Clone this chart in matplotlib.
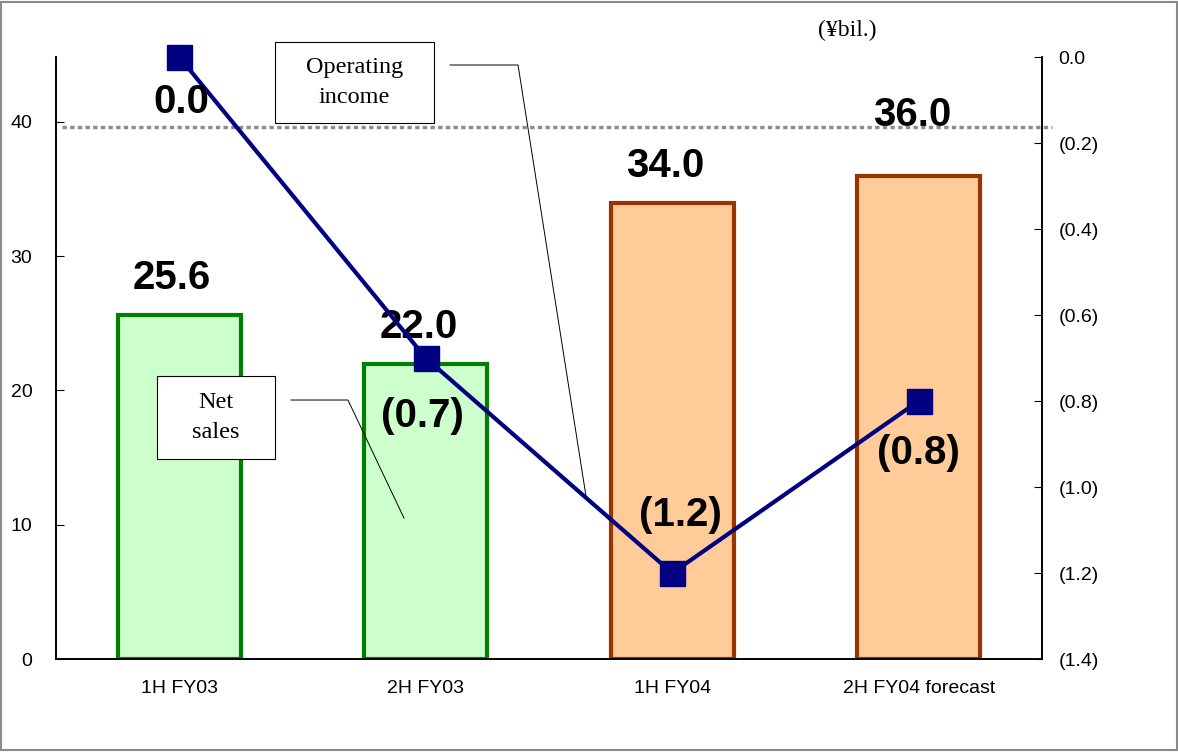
import matplotlib.pyplot as plt
from matplotlib.patches import Rectangle
from matplotlib.lines import Line2D
from matplotlib.ticker import FuncFormatter

# data (¥ billions)
periods = ["1H FY03", "2H FY03", "1H FY04", "2H FY04 forecast"]
net_sales = [25.6, 22.0, 34.0, 36.0]
operating_income = [0.0, -0.7, -1.2, -0.8]
sales_labels = ["25.6", "22.0", "34.0", "36.0"]
income_labels = ["0.0", "(0.7)", "(1.2)", "(0.8)"]

face_colors = ["#CCFFCC", "#CCFFCC", "#FFCC99", "#FFCC99"]
edge_colors = ["#008000", "#008000", "#993300", "#993300"]

# label offsets in pixels, placed by hand like the original slide
sales_offsets = [(-7, 37), (-7, 37), (-7, 37), (-7, 61)]
income_offsets = [(2, -45), (-3, -58), (8, 58), (0, -52)]

plt.rcParams["font.family"] = ["Liberation Sans", "DejaVu Sans"]

fig = plt.figure(figsize=(11.78, 7.52), dpi=100)
ax = fig.add_axes([56 / 1178, 93 / 752, 986 / 1178, 602 / 752])
ax2 = ax.twinx()

x = list(range(len(periods)))
ax.bar(x, net_sales, width=0.5, color=face_colors, edgecolor=edge_colors,
       linewidth=3, zorder=2)
ax.set_xlim(-0.5, 3.5)
ax.set_ylim(0, 44.84)
ax.set_yticks([0, 10, 20, 30, 40])
ax.set_xticks(x)
ax.set_xticklabels(periods)
ax.tick_params(axis="x", length=0, pad=15, labelsize=14)
ax.tick_params(axis="y", direction="in", length=6, pad=17, labelsize=14)

for i, v in enumerate(net_sales):
    ax.annotate(sales_labels[i], (x[i], v), xytext=sales_offsets[i],
                textcoords="offset pixels", ha="center", va="center",
                fontsize=29, fontweight="bold", zorder=3)

ax2.plot(x, operating_income, color="#000080", linewidth=3, marker="s",
         markersize=18, zorder=4, clip_on=False)
ax2.set_ylim(-1.4, 0)
ax2.set_yticks([0, -0.2, -0.4, -0.6, -0.8, -1.0, -1.2, -1.4])
ax2.yaxis.set_major_formatter(FuncFormatter(
    lambda v, p: "0.0" if abs(v) < 1e-9 else f"({abs(v):.1f})"))
ax2.tick_params(axis="y", direction="in", length=6, pad=12, labelsize=14)

for i, v in enumerate(operating_income):
    ax2.annotate(income_labels[i], (x[i], v), xytext=income_offsets[i],
                 textcoords="offset pixels", ha="center", va="center",
                 fontsize=29, fontweight="bold", zorder=5)

for a in (ax, ax2):
    a.spines["top"].set_visible(False)
    for s in ("left", "right", "bottom"):
        a.spines[s].set_linewidth(1.2)

# dotted reference line across the plot
ax2.add_line(Line2D([0.006, 1.0101], [0.8837, 0.8837], transform=ax2.transAxes,
                    color="#8c8c8c", linewidth=2.4, linestyle=(0, (1.3, 1)),
                    clip_on=False, zorder=1))

# callout boxes with leader lines
serif = ["Liberation Serif", "DejaVu Serif"]
ax2.add_patch(Rectangle((0.2221, 0.8904), 0.1613, 0.1346, transform=ax2.transAxes,
                        facecolor="white", edgecolor="black", linewidth=0.8,
                        clip_on=False, zorder=6))
ax2.text(0.3027, 0.9576, "Operating\nincome", transform=ax2.transAxes,
         ha="center", va="center", fontsize=17.5, family=serif,
         linespacing=1.55, zorder=7)
ax2.add_line(Line2D([0.3996, 0.4686, 0.5375], [0.9867, 0.9867, 0.2708],
                    transform=ax2.transAxes, color="black", linewidth=0.7,
                    clip_on=False, zorder=6))

ax2.add_patch(Rectangle((0.1024, 0.3322), 0.1197, 0.1379, transform=ax2.transAxes,
                        facecolor="white", edgecolor="black", linewidth=0.8,
                        clip_on=False, zorder=6))
ax2.text(0.1623, 0.4012, "Net\nsales", transform=ax2.transAxes,
         ha="center", va="center", fontsize=17.5, family=serif,
         linespacing=1.6, zorder=7)
ax2.add_line(Line2D([0.2383, 0.2961, 0.3529], [0.4302, 0.4302, 0.2342],
                    transform=ax2.transAxes, color="black", linewidth=0.7,
                    clip_on=False, zorder=6))

fig.text(847 / 1178, 1 - 30 / 752, "(¥bil.)", ha="center", va="center",
         fontsize=17, family=serif)

# outer frame of the slide
fig.add_artist(Rectangle((0.001, 0.002), 0.998, 0.995, transform=fig.transFigure,
                         fill=False, edgecolor="#8a8a8a", linewidth=1.5))

fig.savefig("out.png", dpi=100)
